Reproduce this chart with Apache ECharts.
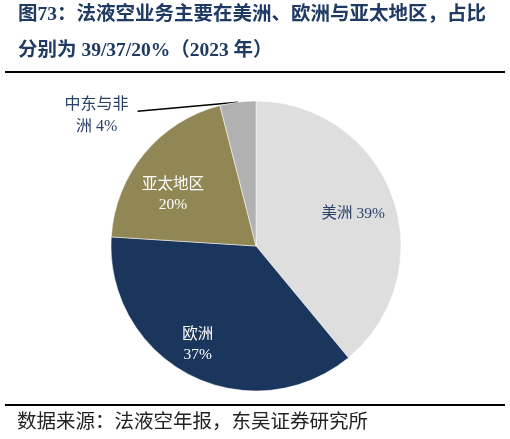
<!DOCTYPE html>
<html><head><meta charset="utf-8">
<script src="https://cdn.jsdelivr.net/npm/echarts@6/dist/echarts.min.js"></script>
<style>html,body{margin:0;padding:0;background:#fff}#c{width:510px;height:439px}</style>
</head><body><div id="c"></div>
<script>
var categories = ['美洲', '欧洲', '亚太地区', '中东与非洲'];
var values = [39, 37, 20, 4];
var labelTexts = ['美洲 39%', '欧洲\n37%', '亚太地区\n20%', '{a|中东与非}\n{a|洲 4%}'];
var colors = ['#dedede', '#1b365d', '#918754', '#b1b1b1'];
var labelColors = ['#2a4268', '#ffffff', '#ffffff', '#2a4268'];
var titleLine1 = '图73：法液空业务主要在美洲、欧洲与亚太地区，占比';
var titleLine2 = '分别为 39/37/20%（2023 年）';
var sourceText = '数据来源：法液空年报，东吴证券研究所';

var FONT = '"Liberation Serif", "Noto Sans CJK SC", serif';
var chart = echarts.init(document.getElementById('c'), null, {renderer: 'canvas'});

var mainData = categories.map(function (c, i) {
  var d = {name: c, value: values[i], itemStyle: {color: colors[i]}};
  if (i === 3) {
    d.label = {show: true, position: 'outside', formatter: labelTexts[i], color: labelColors[i],
      fontSize: 16, lineHeight: 22, fontFamily: FONT,
      rich: {a: {width: 64, align: 'center', fontSize: 16, lineHeight: 22, fontFamily: FONT, color: labelColors[i]}}};
    d.labelLine = {show: true, length: 2, length2: 100, lineStyle: {color: '#000', width: 1.5}};
  } else {
    d.label = {show: false};
    d.labelLine = {show: false};
  }
  return d;
});
var labelData = categories.map(function (c, i) {
  return {name: c, value: values[i],
    label: {show: i !== 3, formatter: labelTexts[i], color: labelColors[i]}};
});

chart.setOption({
  animation: false,
  series: [{
    type: 'pie',
    center: [256, 246],
    radius: [0, 145],
    startAngle: 90,
    clockwise: true,
    avoidLabelOverlap: false,
    itemStyle: {borderColor: '#fff', borderWidth: 0.5},
    data: mainData,
    labelLayout: function (p) {
      var pts = p.labelLinePoints;
      if (!pts) return {};
      var end = pts[pts.length - 1];
      return {dx: -4, dy: 16, labelLinePoints: [pts[0], [end[0], end[1] + 11]]};
    }
  }, {
    type: 'pie',
    center: [256, 246],
    radius: [62, 145],
    startAngle: 90,
    clockwise: true,
    silent: true,
    itemStyle: {color: 'transparent'},
    label: {position: 'inside', fontSize: 15.5, lineHeight: 20, fontFamily: FONT, align: 'center'},
    labelLine: {show: false},
    data: labelData,
    labelLayout: function (p) {
      var off = [[-3, 4], [-10, 4], [-1, 17], [0, 0]][p.dataIndex];
      return {dx: off[0], dy: off[1]};
    },
    z: 5
  }],
  graphic: [
    {type: 'text', left: 18, top: 5, style: {text: titleLine1, fill: '#1f3a63',
      font: 'bold 19.5px ' + FONT}},
    {type: 'text', left: 18, top: 41, style: {text: titleLine2, fill: '#1f3a63',
      font: 'bold 19.5px ' + FONT}},
    {type: 'line', shape: {x1: 5, y1: 72, x2: 505, y2: 72}, style: {stroke: '#000', lineWidth: 2}},
    {type: 'line', shape: {x1: 5, y1: 405, x2: 505, y2: 405}, style: {stroke: '#000', lineWidth: 2}},
    {type: 'text', left: 17, top: 413, style: {text: sourceText, fill: '#222',
      font: '19.5px ' + FONT}}
  ]
});
</script></body></html>
